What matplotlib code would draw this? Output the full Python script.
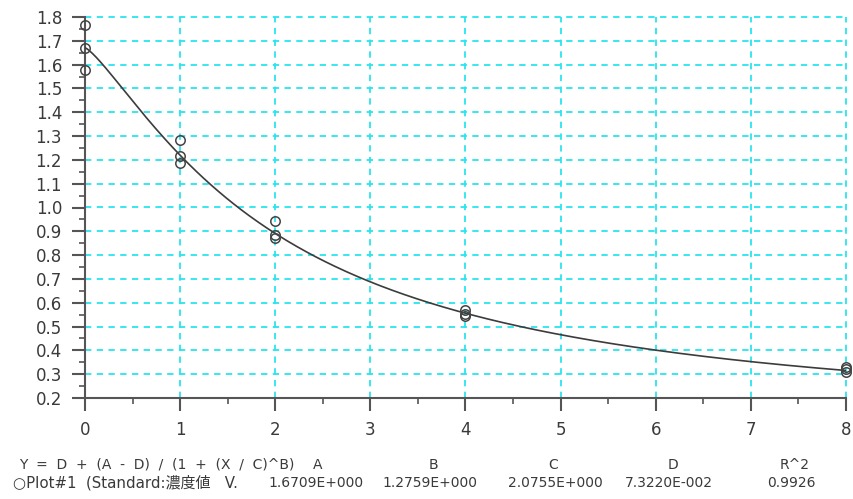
import numpy as np
import matplotlib
matplotlib.use("Agg")
import matplotlib.pyplot as plt
from matplotlib.ticker import MultipleLocator

# standard concentrations and measured values (3 replicates each)
conc = [0, 0, 0, 1, 1, 1, 2, 2, 2, 4, 4, 4, 8, 8, 8]
resp = [1.765, 1.670, 1.578, 1.283, 1.215, 1.188, 0.945, 0.885, 0.872,
        0.568, 0.552, 0.545, 0.330, 0.320, 0.310]

# 4-parameter logistic fit results
A = 1.6709
B = 1.2759
C = 2.0755
D = 7.3220e-002
R2 = 0.9926

param_names = ["A", "B", "C", "D", "R^2"]
param_text = ["1.6709E+000", "1.2759E+000", "2.0755E+000", "7.3220E-002", "0.9926"]

W, H = 854, 499
fnt = ["DejaVu Sans", "Noto Sans CJK JP"]
plt.rcParams["font.family"] = fnt
txtc = "#3a3a3a"
axc = "#555555"
grid_c = "#2ae4ee"

fig = plt.figure(figsize=(W / 100, H / 100), dpi=100)
ax = fig.add_axes([85 / W, 1 - 398 / H, (846 - 85) / W, (398 - 17) / H])

ax.set_xlim(0, 8)
ax.set_ylim(0.2, 1.8)

# grid lines, drawn by hand so they stop at the axis limits
for gy in np.arange(0.3, 1.81, 0.1):
    ax.plot([0, 8], [gy, gy], color=grid_c, lw=1.3, ls=(0, (3.5, 3)), zorder=1, clip_on=False)
for gx in range(1, 9):
    ax.plot([gx, gx], [0.2, 1.8], color=grid_c, lw=1.3, ls=(0, (3.5, 3)), zorder=1, clip_on=False)

# fitted curve
xs = np.linspace(0, 8, 400)
ys = D + (A - D) / (1 + (xs / C) ** B)
ax.plot(xs, ys, color="#3c3c3c", lw=1.2, zorder=3)

ax.plot(conc, resp, ls="none", marker="o", ms=6.8, mfc="none", mec="#444444",
        mew=1.1, zorder=4, clip_on=False)

for s in ["top", "right"]:
    ax.spines[s].set_visible(False)
for s in ["left", "bottom"]:
    ax.spines[s].set_color(axc)
    ax.spines[s].set_linewidth(1.5)

ax.xaxis.set_major_locator(MultipleLocator(1))
ax.xaxis.set_minor_locator(MultipleLocator(0.5))
ax.yaxis.set_minor_locator(MultipleLocator(0.05))
ax.set_yticks(np.round(np.arange(0.2, 1.81, 0.1), 1))
ax.set_yticklabels(["%.1f" % v for v in np.arange(0.2, 1.81, 0.1)])
ax.tick_params(axis="both", which="major", direction="out", length=9.5, width=1.5,
               color=axc, labelsize=12, labelcolor=txtc)
ax.tick_params(axis="both", which="minor", direction="out", length=4, width=1.2, color=axc)
ax.tick_params(axis="y", which="major", pad=7)
ax.tick_params(axis="x", which="major", pad=7)

# fit summary under the plot
fs = 10
fig.text(19 / W, 1 - 465 / H, "Y  =  D  +  (A  -  D)  /  (1  +  (X  /  C)^B)", fontsize=fs,
         color=txtc, va="center", ha="left")
fig.text(13 / W, 1 - 483 / H, "○Plot#1  (Standard:濃度値   V.", fontsize=10.8,
         color=txtc, va="center", ha="left")
name_x = [318, 433, 553, 673, 795]
val_x = [316, 430, 555, 669, 791]
for nm, nx, vt, vx in zip(param_names, name_x, param_text, val_x):
    fig.text(nx / W, 1 - 465 / H, nm, fontsize=fs, color=txtc, va="center", ha="center")
    fig.text(vx / W, 1 - 483 / H, vt, fontsize=fs, color=txtc, va="center", ha="center")

fig.savefig("out.png", dpi=100)
